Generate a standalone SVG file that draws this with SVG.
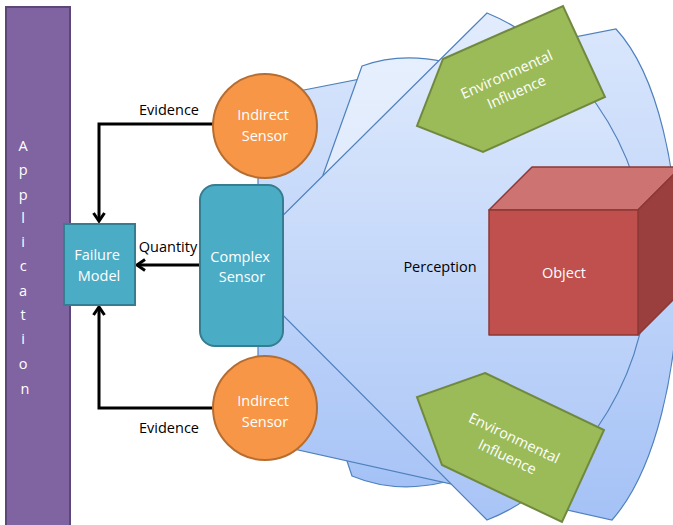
<svg xmlns="http://www.w3.org/2000/svg" width="673" height="525" viewBox="0 0 673 525">
  <defs>
    <linearGradient id="gA" x1="0" y1="0" x2="0" y2="1">
      <stop offset="0" stop-color="#d9e6fc"/>
      <stop offset="1" stop-color="#a5c2f6"/>
    </linearGradient>
    <linearGradient id="gBtop" x1="0" y1="0" x2="0" y2="1">
      <stop offset="0" stop-color="#e6effd"/>
      <stop offset="1" stop-color="#dce8fc"/>
    </linearGradient>
    <linearGradient id="gBbot" x1="0" y1="0" x2="0" y2="1">
      <stop offset="0" stop-color="#b0ccf8"/>
      <stop offset="1" stop-color="#a3c1f6"/>
    </linearGradient>
    <linearGradient id="gC" x1="0" y1="0" x2="0" y2="1">
      <stop offset="0" stop-color="#e2ecfd"/>
      <stop offset="1" stop-color="#a8c4f6"/>
    </linearGradient>
    <marker id="arrow" viewBox="-10 -7 13 14" refX="0" refY="0" markerWidth="13" markerHeight="14" markerUnits="userSpaceOnUse" orient="auto">
      <path d="M-8,-5.5 L0,0 L-8,5.5" fill="none" stroke="#000" stroke-width="3"/>
    </marker>
    <style>
      .txt { font-family: "Open Sans", "Liberation Sans", sans-serif; font-size: 14.5px; }
      .w { fill: #ffffff; }
      .k { fill: #000000; }
      .cone { stroke: #4f81bd; stroke-width: 1.2; }
      .sensor { fill: #f79646; stroke: #b66d31; stroke-width: 2; }
      .blue { fill: #4bacc6; stroke: #357d91; stroke-width: 2; }
      .env { fill: #9bbb59; stroke: #71893f; stroke-width: 2; }
      .wire { fill: none; stroke: #000; stroke-width: 3; }
    </style>
  </defs>

  <rect width="673" height="525" fill="#ffffff"/>

  <!-- perception cones -->
  <g id="perception">
    <path class="cone" fill="url(#gBbot)" d="M330,420 L347,461 L352,476 Q395,494 445,482 L445,420 Z"/>
    <path class="cone" fill="url(#gA)" d="M258,99 L616,29 C700,120 700,420 612,520 L258,441 Z"/>
    <path class="cone" fill="url(#gBtop)" d="M323,175 L362,66 Q400,52 445,62 L445,250 Z"/>
    <path class="cone" fill="url(#gC)" d="M233,265 L487,13 C565,45 648,140 648,268 C648,390 565,490 487,520 Z"/>
    <text class="txt k" x="440" y="272" text-anchor="middle">Perception</text>
  </g>

  <!-- application bar -->
  <g id="application">
    <rect x="6" y="7" width="64" height="525" fill="#8064a2" stroke="#5c4776" stroke-width="2"/>
    <text class="txt w" text-anchor="middle">
      <tspan x="25" y="151">A</tspan>
      <tspan x="25" y="175">p</tspan>
      <tspan x="25" y="199.5">p</tspan>
      <tspan x="25" y="223">l</tspan>
      <tspan x="25" y="247">i</tspan>
      <tspan x="25" y="271">c</tspan>
      <tspan x="25" y="296">a</tspan>
      <tspan x="25" y="320">t</tspan>
      <tspan x="25" y="344">i</tspan>
      <tspan x="25" y="369">o</tspan>
      <tspan x="25" y="394">n</tspan>
    </text>
  </g>

  <!-- environmental influences -->
  <g id="env-top">
    <polygon class="env" points="443,59 563,6 605,97 483,152 417,126"/>
    <text class="txt w" transform="translate(512,82) rotate(-24)" text-anchor="middle">
      <tspan x="0" y="-4">Environmental</tspan>
      <tspan x="0" y="16">Influence</tspan>
    </text>
  </g>
  <g id="env-bottom">
    <polygon class="env" points="485,373 604,430 562,522 442,465 417,397"/>
    <text class="txt w" transform="translate(512,447) rotate(25.4)" text-anchor="middle">
      <tspan x="0" y="-4">Environmental</tspan>
      <tspan x="0" y="16">Influence</tspan>
    </text>
  </g>

  <!-- object cube -->
  <g id="object" stroke="#8c3836" stroke-width="1.5" stroke-linejoin="round">
    <polygon points="489,210 532,167 681,167 638,210" fill="#cd7371"/>
    <polygon points="638,210 681,167 681,292 638,335" fill="#9a3f3d"/>
    <rect x="489" y="210" width="149" height="125" fill="#c0504d"/>
    <text class="txt w" x="564" y="278" text-anchor="middle" stroke="none">Object</text>
  </g>

  <!-- connectors -->
  <g id="connectors">
    <path class="wire" d="M213,124 H99 V221" marker-end="url(#arrow)"/>
    <path class="wire" d="M213,408 H99 V307" marker-end="url(#arrow)"/>
    <path class="wire" d="M199,265 H137" marker-end="url(#arrow)"/>
    <text class="txt k" x="169" y="115" text-anchor="middle">Evidence</text>
    <text class="txt k" x="168" y="252" text-anchor="middle">Quantity</text>
    <text class="txt k" x="169" y="433" text-anchor="middle">Evidence</text>
  </g>

  <!-- sensors -->
  <g id="indirect-top">
    <circle class="sensor" cx="265" cy="126" r="52"/>
    <text class="txt w" text-anchor="middle">
      <tspan x="265" y="120">Indirect</tspan>
      <tspan x="265" y="141">Sensor</tspan>
    </text>
  </g>
  <g id="indirect-bottom">
    <circle class="sensor" cx="265" cy="408" r="52"/>
    <text class="txt w" text-anchor="middle">
      <tspan x="265" y="406">Indirect</tspan>
      <tspan x="265" y="427">Sensor</tspan>
    </text>
  </g>
  <g id="complex-sensor">
    <rect class="blue" x="200" y="185" width="83" height="161" rx="15" ry="15"/>
    <text class="txt w" text-anchor="middle">
      <tspan x="242" y="262">Complex</tspan>
      <tspan x="242" y="282">Sensor</tspan>
    </text>
  </g>
  <g id="failure-model">
    <rect class="blue" x="64" y="224" width="71" height="81"/>
    <text class="txt w" text-anchor="middle">
      <tspan x="99" y="260">Failure</tspan>
      <tspan x="99" y="281">Model</tspan>
    </text>
  </g>
</svg>
